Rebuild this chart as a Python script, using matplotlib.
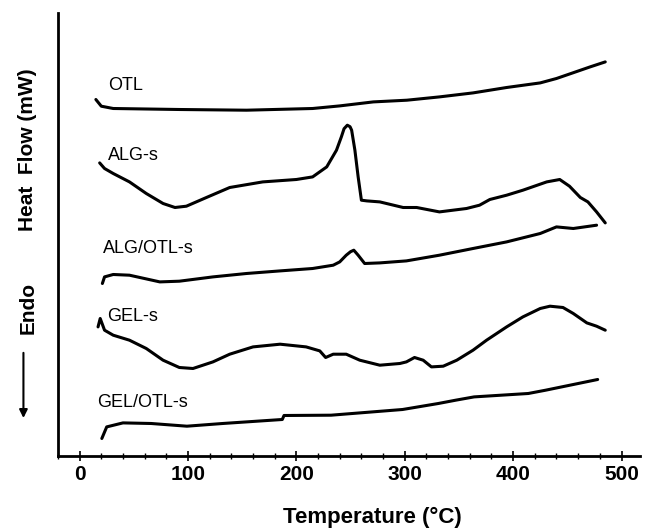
import matplotlib
matplotlib.use('Agg')
import matplotlib.pyplot as plt

plt.rcParams['font.family'] = ['Liberation Sans', 'DejaVu Sans']

# DSC traces, temperature in degC, heat flow in arbitrary (offset) units
OTL_T = [15, 20, 31, 92, 154, 215, 240, 271, 302, 332, 363, 394, 425, 440, 455, 471, 485]
OTL_HF = [35.67, 35.0, 34.77, 34.67, 34.6, 34.77, 35.03, 35.43, 35.6, 35.93, 36.33, 36.87,
          37.33, 37.77, 38.33, 38.93, 39.43]

ALG_T = [18.5, 23, 31, 46, 61.5, 77, 88, 98.5, 117, 138.5, 169, 200, 215, 228, 237, 241.5,
         244, 247, 249.5, 251, 254, 257, 260, 265, 277, 298.5, 311, 332, 357, 369, 378.5,
         394, 409, 431, 443, 452, 462, 469, 477, 485]
ALG_HF = [29.33, 28.77, 28.27, 27.43, 26.27, 25.27, 24.87, 25.0, 25.87, 26.87, 27.43, 27.67,
          27.93, 28.93, 30.6, 31.93, 32.75, 33.1, 32.95, 32.6, 30.6, 27.93, 25.6, 25.53, 25.43,
          24.87, 24.87, 24.43, 24.77, 25.1, 25.67, 26.1, 26.6, 27.43, 27.67, 27.0, 25.87, 25.43,
          24.43, 23.33]

ALG_OTL_T = [21, 23, 31, 46, 74, 92, 123, 154, 185, 215, 234, 240, 246, 250, 253, 257, 263,
             277, 301.5, 332, 363, 394, 425, 440, 455.5, 477]
ALG_OTL_HF = [17.27, 17.93, 18.17, 18.1, 17.43, 17.5, 17.93, 18.27, 18.53, 18.77, 19.1, 19.43,
              20.1, 20.45, 20.6, 20.1, 19.27, 19.33, 19.53, 20.1, 20.77, 21.43, 22.27, 22.93,
              22.77, 23.1]

GEL_T = [17, 19, 23, 31, 46, 61.5, 77, 92, 104.6, 123, 138.5, 160, 185, 209, 221.6, 227, 234,
         246, 258.5, 277, 295.5, 301.5, 309, 317, 324.6, 335.5, 348, 363, 375.5, 394, 409, 425,
         434, 446, 455.5, 468, 477, 485]
GEL_HF = [12.93, 13.77, 12.6, 12.1, 11.6, 10.77, 9.6, 8.87, 8.77, 9.43, 10.2, 10.93, 11.2,
          10.93, 10.53, 9.87, 10.2, 10.2, 9.6, 9.1, 9.27, 9.43, 9.87, 9.6, 8.93, 9.0, 9.6, 10.6,
          11.6, 12.93, 13.93, 14.77, 15.0, 14.87, 14.27, 13.33, 13.0, 12.6]

GEL_OTL_T = [20.5, 25, 40, 66, 99, 132, 187, 188.6, 232, 298, 331, 347, 364, 414, 430, 478]
GEL_OTL_HF = [1.77, 2.93, 3.33, 3.27, 3.0, 3.27, 3.67, 4.07, 4.1, 4.67, 5.27, 5.6, 5.93, 6.27,
              6.6, 7.67]

LABELS = ['OTL', 'ALG-s', 'ALG/OTL-s', 'GEL-s', 'GEL/OTL-s']
LABEL_T = [26.7, 25.8, 21.2, 25.8, 15.7]
LABEL_HF = [37.1, 30.1, 20.8, 14.0, 5.4]

SERIES = [(OTL_T, OTL_HF), (ALG_T, ALG_HF), (ALG_OTL_T, ALG_OTL_HF),
          (GEL_T, GEL_HF), (GEL_OTL_T, GEL_OTL_HF)]


def build_dsc():
    fig = plt.figure(figsize=(6.51, 5.28), dpi=100)
    ax = fig.add_axes([0.089, 0.136, 0.894, 0.839])

    for (t, hf), name, lt, lh in zip(SERIES, LABELS, LABEL_T, LABEL_HF):
        ax.plot(t, hf, color='black', lw=2.2, solid_capstyle='round', solid_joinstyle='round')
        ax.text(lt, lh, name, fontsize=13, ha='left', va='center')

    ax.set_xlim(-20, 517)
    ax.set_ylim(0, 44.3)
    ax.set_xticks(range(0, 501, 100))
    ax.set_xticks(range(-20, 517, 20), minor=True)
    ax.set_yticks([])
    for side in ('top', 'right'):
        ax.spines[side].set_visible(False)
    for side in ('left', 'bottom'):
        ax.spines[side].set_linewidth(2)
    ax.tick_params(axis='x', which='major', direction='inout', length=7, width=1.2,
                   labelsize=15, pad=3)
    ax.tick_params(axis='x', which='minor', direction='inout', length=4, width=1)
    for lbl in ax.get_xticklabels():
        lbl.set_fontweight('bold')

    ax.set_xlabel('Temperature (\u00b0C)', fontsize=16, fontweight='bold', labelpad=15)
    ax.xaxis.set_label_coords(0.54, -0.115)

    fig.text(0.043, 0.716, 'Heat  Flow (mW)', rotation=90, ha='center', va='center',
             fontsize=15, fontweight='bold')
    fig.text(0.043, 0.417, 'Endo', rotation=90, ha='center', va='center',
             fontsize=15, fontweight='bold')
    fig.add_artist(matplotlib.patches.FancyArrowPatch(
        (0.036, 0.337), (0.036, 0.203), transform=fig.transFigure,
        arrowstyle='-|>', mutation_scale=12, lw=1.5, color='black'))

    fig.savefig('out.png', dpi=100)


if __name__ == '__main__':
    build_dsc()
